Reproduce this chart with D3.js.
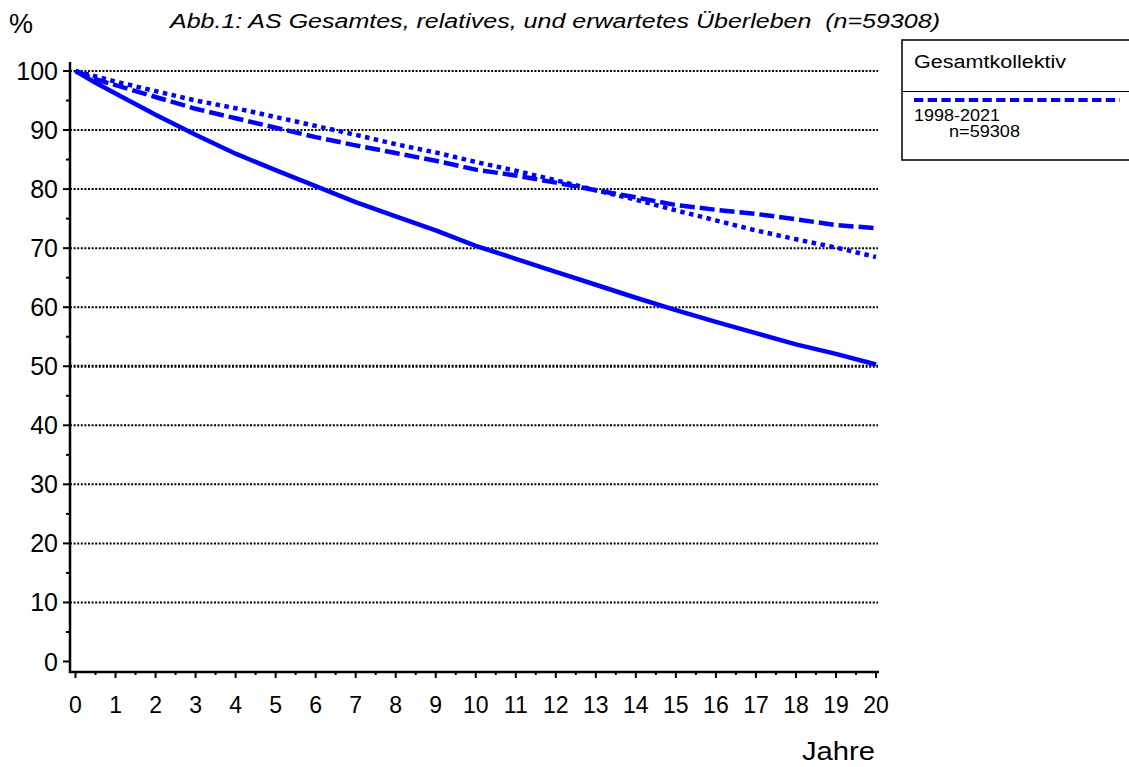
<!DOCTYPE html>
<head>
  <meta charset="utf-8">
  <script src="https://d3js.org/d3.v7.min.js"></script>
  <style>
    body { margin: 0; background: #fff; }
    svg { font-family: Arial, "Liberation Sans", sans-serif; }
    text { white-space: pre; }
    .tick-label { font-size: 25px; fill: #000; }
    .grid { stroke: #000; stroke-width: 2; stroke-dasharray: 2,1.6; }
    .curve { fill: none; stroke: #0000ff; stroke-width: 4.5; }
  </style>
</head>
<body>
<script>
  // years on the x axis
  var years = [0, 0.5, 1, 2, 3, 4, 5, 6, 7, 8, 9, 10, 11, 12, 13, 14, 15, 16, 17, 18, 19, 20];

  // Gesamtueberleben (solid)
  var overall = [100, 98.0, 96.2, 92.6, 89.2, 86.0, 83.2, 80.5, 77.8, 75.4, 73.0, 70.4,
                 68.2, 66.0, 63.8, 61.6, 59.5, 57.5, 55.6, 53.7, 52.1, 50.3];
  // relatives Ueberleben (dashed)
  var relative = [100, 98.6, 97.6, 95.6, 93.6, 92.0, 90.4, 88.8, 87.4, 86.1, 84.8, 83.3,
                  82.3, 81.1, 79.8, 78.6, 77.3, 76.5, 75.8, 74.9, 73.9, 73.4];
  // erwartetes Ueberleben (dotted)
  var expected = [100, 99.1, 98.2, 96.6, 95.0, 93.7, 92.2, 90.7, 89.2, 87.6, 86.2, 84.6,
                  83.1, 81.5, 79.8, 78.2, 76.4, 74.7, 73.0, 71.5, 70.1, 68.5];

  var xTicks = d3.range(0, 21);
  var yTicks = d3.range(0, 101, 10);
  var gridTicks = d3.range(10, 101, 10);

  var width = 1129, height = 767;

  var svg = d3.select("body").append("svg")
      .attr("width", width)
      .attr("height", height);

  var x = d3.scaleLinear().domain([0, 20]).range([75.5, 876]);
  var y = d3.scaleLinear().domain([0, 100]).range([661.5, 71]);

  var axisX = 70, axisY = 672;

  // title
  svg.append("text")
      .attr("x", 170).attr("y", 28)
      .attr("textLength", 770).attr("lengthAdjust", "spacingAndGlyphs")
      .style("font-size", "20.5px").style("font-style", "italic")
      .text("Abb.1: AS Gesamtes, relatives, und erwartetes \u00dcberleben  (n=59308)");

  svg.append("text")
      .attr("x", 9).attr("y", 33)
      .style("font-size", "27px")
      .text("%");

  // grid lines
  svg.selectAll(".grid")
      .data(gridTicks)
    .enter().append("line")
      .attr("class", "grid")
      .attr("x1", axisX).attr("x2", 878)
      .attr("y1", function(d) { return y(d); })
      .attr("y2", function(d) { return y(d); })
      .style("stroke-width", function(d) { return d == 50 ? 3 : 2; });

  // y axis
  svg.append("line")
      .attr("x1", axisX).attr("x2", axisX)
      .attr("y1", 62).attr("y2", axisY + 1)
      .attr("stroke", "#000").attr("stroke-width", 2.5);

  svg.selectAll(".ytick")
      .data(d3.range(0, 101, 5))
    .enter().append("line")
      .attr("x1", function(d) { return d % 10 == 0 ? axisX - 7 : axisX - 4; })
      .attr("x2", axisX)
      .attr("y1", function(d) { return y(d); })
      .attr("y2", function(d) { return y(d); })
      .attr("stroke", "#000").attr("stroke-width", 2);

  svg.selectAll(".ylab")
      .data(yTicks)
    .enter().append("text")
      .attr("class", "tick-label")
      .attr("x", 58)
      .attr("y", function(d) { return y(d) + 9; })
      .attr("text-anchor", "end")
      .text(function(d) { return d; });

  // x axis
  svg.append("line")
      .attr("x1", axisX - 1).attr("x2", 879)
      .attr("y1", axisY).attr("y2", axisY)
      .attr("stroke", "#000").attr("stroke-width", 2.5);

  svg.selectAll(".xtick")
      .data(d3.range(0, 20.5, 0.5))
    .enter().append("line")
      .attr("x1", function(d) { return x(d); })
      .attr("x2", function(d) { return x(d); })
      .attr("y1", axisY)
      .attr("y2", function(d) { return d % 1 == 0 ? axisY + 6 : axisY + 3; })
      .attr("stroke", "#000").attr("stroke-width", 2);

  svg.selectAll(".xlab")
      .data(xTicks)
    .enter().append("text")
      .attr("class", "tick-label")
      .style("font-size", "23px")
      .attr("x", function(d) { return x(d); })
      .attr("y", 713)
      .attr("text-anchor", "middle")
      .text(function(d) { return d; });

  svg.append("text")
      .attr("x", 802).attr("y", 760)
      .attr("textLength", 73).attr("lengthAdjust", "spacingAndGlyphs")
      .style("font-size", "25px")
      .text("Jahre");

  // curves
  var line = d3.line()
      .x(function(d) { return x(d[0]); })
      .y(function(d) { return y(d[1]); });

  function pts(vals) { return years.map(function(yr, i) { return [yr, vals[i]]; }); }

  svg.append("path").attr("class", "curve")
      .attr("d", line(pts(expected)))
      .attr("stroke-dasharray", "4.5,4.5");

  svg.append("path").attr("class", "curve")
      .attr("d", line(pts(relative)))
      .attr("stroke-dasharray", "15,5");

  svg.append("path").attr("class", "curve")
      .attr("d", line(pts(overall)));

  // legend
  var lg = svg.append("g");
  lg.append("rect")
      .attr("x", 902).attr("y", 40)
      .attr("width", 240).attr("height", 120)
      .attr("fill", "none").attr("stroke", "#000").attr("stroke-width", 1.5);
  lg.append("line")
      .attr("x1", 902).attr("x2", 1140)
      .attr("y1", 91.5).attr("y2", 91.5)
      .attr("stroke", "#000").attr("stroke-width", 1.2);
  lg.append("text")
      .attr("x", 914).attr("y", 68)
      .attr("textLength", 152).attr("lengthAdjust", "spacingAndGlyphs")
      .style("font-size", "18px")
      .text("Gesamtkollektiv");
  lg.append("line")
      .attr("x1", 914).attr("x2", 1120)
      .attr("y1", 100).attr("y2", 100)
      .attr("stroke", "#0000ff").attr("stroke-width", 4)
      .attr("stroke-dasharray", "9.3,4.4");
  lg.append("text")
      .attr("x", 914).attr("y", 121)
      .attr("textLength", 86).attr("lengthAdjust", "spacingAndGlyphs")
      .style("font-size", "16px")
      .text("1998-2021");
  lg.append("text")
      .attr("x", 949).attr("y", 137)
      .attr("textLength", 71).attr("lengthAdjust", "spacingAndGlyphs")
      .style("font-size", "16px")
      .text("n=59308");
</script>
</body>
